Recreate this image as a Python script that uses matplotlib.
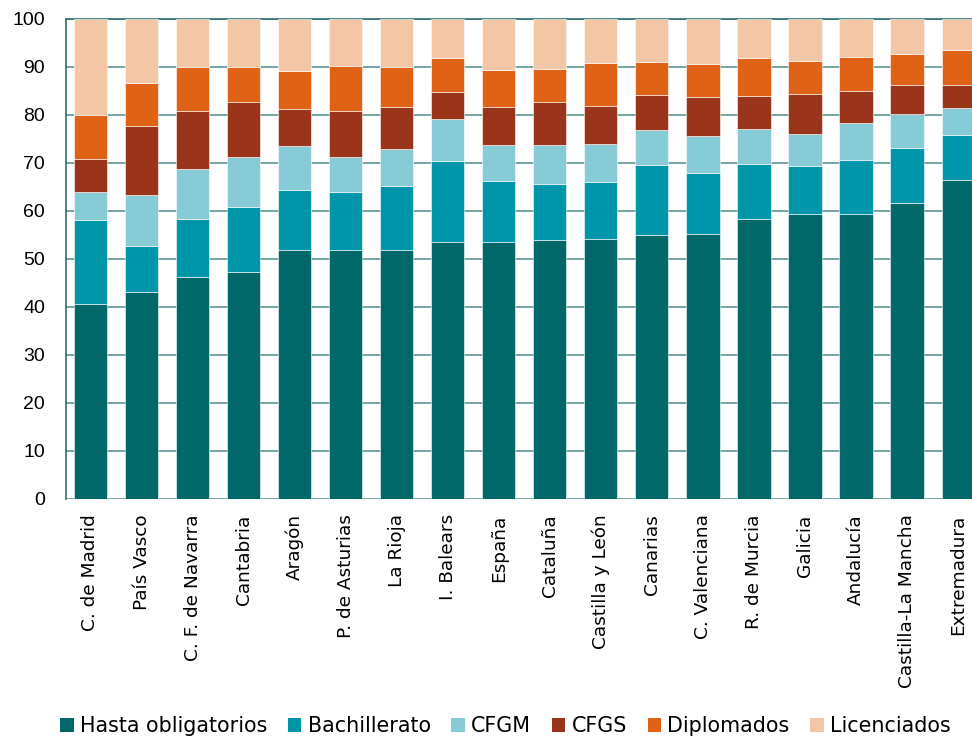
import numpy as np
import matplotlib.pyplot as plt
from matplotlib.patches import Patch

regions = ['C. de Madrid', 'País Vasco', 'C. F. de Navarra', 'Cantabria', 'Aragón',
           'P. de Asturias', 'La Rioja', 'I. Balears', 'España', 'Cataluña',
           'Castilla y León', 'Canarias', 'C. Valenciana', 'R. de Murcia', 'Galicia',
           'Andalucía', 'Castilla-La Mancha', 'Extremadura']

hasta = [40.6, 43.1, 46.2, 47.2, 51.9, 51.8, 51.9, 53.6, 53.6, 53.9,
         54.1, 54.9, 55.3, 58.4, 59.4, 59.4, 61.6, 66.5]
bachiller = [17.6, 9.7, 12.2, 13.6, 12.5, 12.2, 13.2, 16.8, 12.6, 11.7,
             12.0, 14.7, 12.7, 11.3, 10.0, 11.2, 11.5, 9.3]
cfgm = [5.7, 10.6, 10.3, 10.4, 9.1, 7.2, 7.8, 8.8, 7.6, 8.2,
        7.9, 7.2, 7.6, 7.4, 6.7, 7.7, 7.0, 5.7]
cfgs = [7.0, 14.2, 12.1, 11.6, 7.7, 9.6, 8.8, 5.5, 7.9, 8.9,
        7.9, 7.4, 8.2, 6.9, 8.3, 6.6, 6.2, 4.8]
diplomados = [9.0, 9.1, 9.1, 7.2, 7.9, 9.3, 8.3, 7.2, 7.7, 6.9,
              8.9, 6.8, 6.8, 7.8, 6.9, 7.1, 6.5, 7.2]
licenciados = [20.1, 13.3, 10.1, 10.0, 10.9, 9.9, 10.0, 8.1, 10.6, 10.4,
               9.2, 9.0, 9.4, 8.2, 8.7, 8.0, 7.2, 6.5]

series = [('Hasta obligatorios', hasta, '#006868'),
          ('Bachillerato', bachiller, '#0096AA'),
          ('CFGM', cfgm, '#86CBD5'),
          ('CFGS', cfgs, '#9A341A'),
          ('Diplomados', diplomados, '#E06216'),
          ('Licenciados', licenciados, '#F3C6A5')]

plt.rcParams['font.family'] = ['DejaVu Sans']

fig = plt.figure(figsize=(9.72, 7.41), dpi=100)
ax = fig.add_axes([0.0679, 0.3266, 0.943, 0.6478])

x = np.arange(len(regions))
bottom = np.zeros(len(regions))
for name, vals, col in series:
    ax.bar(x, vals, 0.65, bottom=bottom, color=col, edgecolor='white',
           linewidth=0.4, zorder=3)
    bottom += np.array(vals)

ax.set_ylim(0, 100)
ax.set_xlim(-0.48, 17.48)
ax.set_yticks(range(0, 101, 10))
ax.yaxis.grid(True, color='#5f9595', linewidth=1.2, zorder=0)
ax.set_axisbelow(True)
ax.tick_params(axis='y', length=0, pad=15)
for lab in ax.get_yticklabels():
    lab.set_fontfamily(['Liberation Sans', 'DejaVu Sans'])
    lab.set_fontsize(14)
ax.tick_params(axis='x', length=0, labelsize=13.3, pad=11)
ax.set_xticks(x)
ax.set_xticklabels(regions, rotation=90)

for s in ['right', 'bottom']:
    ax.spines[s].set_visible(False)
ax.spines['left'].set_color('#2f6f6f')
ax.spines['top'].set_color('#2f6f6f')
ax.spines['left'].set_linewidth(1.2)
ax.spines['top'].set_linewidth(1.2)

handles = [Patch(facecolor=c, label=n) for n, _, c in series]
fig.legend(handles=handles, loc='center', bbox_to_anchor=(0.52, 0.02), ncol=6,
           frameon=False, fontsize=14.9, handlelength=0.65, handleheight=0.65,
           handletextpad=0.3, columnspacing=1.0)

fig.savefig('out.png', dpi=100)
